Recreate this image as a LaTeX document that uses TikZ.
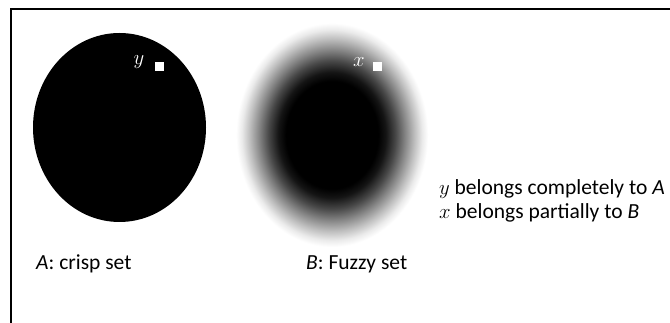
\documentclass[tikz,border=0pt]{standalone}
\usepackage{fontspec}
\setmainfont{Carlito}
\pgfdeclareradialshading{fuzzyset}{\pgfpoint{0bp}{0bp}}{%
  color(0bp)=(black); color(12bp)=(black); color(14bp)=(black!92); color(16.5bp)=(black!72);
  color(19bp)=(black!48); color(21.5bp)=(black!25); color(23.5bp)=(black!8); color(25bp)=(white); color(50bp)=(white)}
\begin{document}
\begin{tikzpicture}[x=1pt,y=-1pt,
  txt/.style={font=\fontsize{21.5}{26}\selectfont, inner sep=0pt, anchor=west},
  rtxt/.style={font=\fontsize{21.5}{26}\selectfont, inner sep=0pt, anchor=west},
  marktxt/.style={font=\fontsize{22}{26}\selectfont, inner sep=0pt, text=white},
  pt/.style={fill=white, minimum size=9pt, inner sep=0pt}]
\useasboundingbox (0,0) rectangle (670,323);
\fill[white] (0,0) rectangle (670,323);
\draw[line width=2.5pt] (11,323) -- (11,9) -- (670,9);
% crisp set
\fill[black] (119.5,127.5) ellipse [x radius=86.5, y radius=94.5];
\node[pt] (py) at (159,67) {};
\node[marktxt] (ly) at (139,62) {$y$};
% fuzzy set
\shade[shading=fuzzyset] (332,135) ellipse [x radius=96, y radius=112];
\node[pt] (px) at (377,67) {};
\node[marktxt] (lx) at (359,62) {$x$};
% labels
\node[txt] (la) at (36,264) {\textit{A}: crisp set};
\node[txt] (lb) at (306,264) {\textit{B}: Fuzzy set};
\node[rtxt] (t1) at (439,189) {$y$ belongs completely to \textit{A}};
\node[rtxt] (t2) at (439,213) {$x$ belongs partially to \textit{B}};
\end{tikzpicture}
\end{document}
